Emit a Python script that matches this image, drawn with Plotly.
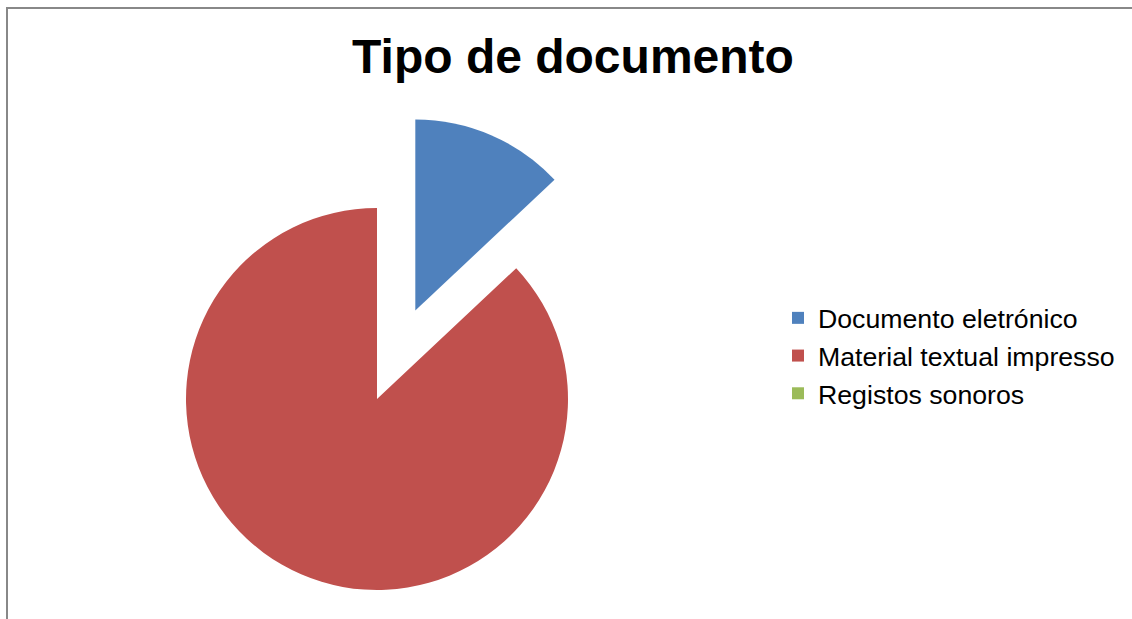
import plotly.graph_objects as go

# ---- data ----
labels = ["Documento eletrónico", "Material textual impresso", "Registos sonoros"]
values = [13, 87, 0]
colors = ["#4F81BD", "#C0504D", "#9BBB59"]
title_text = "Tipo de documento"

# ---- layout geometry ----
W, H = 1132, 700          # chart is taller than the window (cropped like the reference)
pulls = [0.505, 0, 0.5]
max_pull = max(pulls)
cx, cy, r = 377, 399, 191  # pie centre / radius in pixels
half = r * (1 + max_pull)
dom_x = [(cx - half) / W, (cx + half) / W]
dom_y = [(H - (cy + half)) / H, (H - (cy - half)) / H]

font_family = "Liberation Sans, Arial, sans-serif"

fig = go.Figure(
    go.Pie(
        labels=labels,
        values=values,
        marker=dict(colors=colors, line=dict(width=0)),
        pull=pulls,
        sort=False,
        direction="clockwise",
        rotation=0,
        textinfo="none",
        domain=dict(x=dom_x, y=dom_y),
    )
)

fig.update_layout(
    width=W,
    height=H,
    margin=dict(l=0, r=0, t=0, b=0),
    paper_bgcolor="white",
    plot_bgcolor="white",
    title=dict(
        text="<b>" + title_text + "</b>",
        font=dict(family=font_family, size=48, color="black"),
        x=573 / W,
        xanchor="center",
        xref="paper",
        y=1 - 56 / H,
        yanchor="middle",
        yref="container",
    ),
    legend=dict(
        x=778 / W,
        xanchor="left",
        y=1 - 356 / H,
        yanchor="middle",
        font=dict(family=font_family, size=26.7, color="black"),
        bgcolor="rgba(0,0,0,0)",
    ),
    shapes=[
        dict(
            type="rect",
            xref="paper",
            yref="paper",
            x0=7 / W,
            x1=1.05,
            y0=-0.1,
            y1=1 - 8 / H,
            line=dict(color="#888888", width=2),
            fillcolor="rgba(0,0,0,0)",
            layer="above",
        )
    ],
)

fig.write_html(
    "out.html",
    config={"displayModeBar": False},
    post_script="document.body.style.margin='0';document.body.style.overflow='hidden';document.documentElement.style.overflow='hidden';",
)
